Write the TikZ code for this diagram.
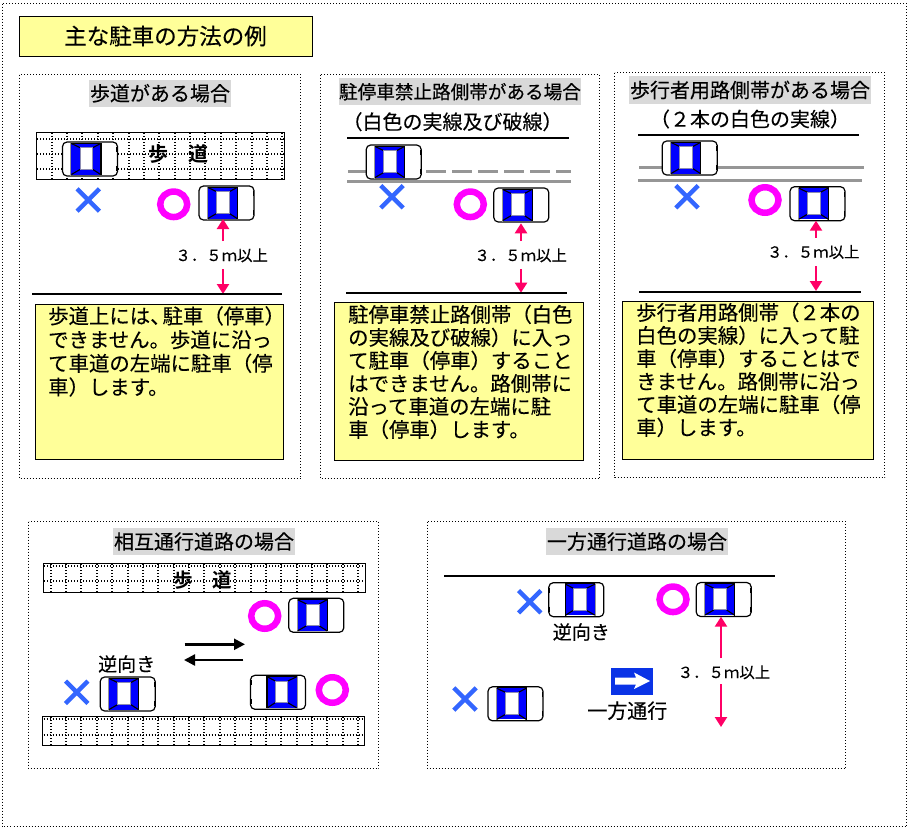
\documentclass[tikz,border=0pt]{standalone}
\usepackage{fontspec}
\setmainfont{Noto Sans CJK JP}[FakeBold=0.25]
\newfontfamily\heavyfont{Noto Sans CJK JP Bold}
\usetikzlibrary{shapes.geometric,shapes.misc,arrows.meta}
\definecolor{padyellow}{HTML}{FFFF99}
\definecolor{hdrgrey}{HTML}{D9D9D9}
\definecolor{linegrey}{HTML}{969696}
\definecolor{xblue}{HTML}{3366FF}
\definecolor{arrowred}{HTML}{FF0066}
\definecolor{signblue}{HTML}{0A33E6}
\definecolor{ringmag}{HTML}{FF00FF}
\definecolor{glass}{HTML}{0000FF}
\definecolor{framegrey}{HTML}{8C8CB4}
\newcommand{\fsz}[1]{\fontsize{#1}{#1}\selectfont}
\tikzset{
  panel/.style={draw=black,line width=1pt,dash pattern=on 1pt off 2pt},
  gridline/.style={line width=2pt,dash pattern=on 1pt off 2pt},
  hdr/.style={fill=hdrgrey,inner sep=0pt,text=black},
  note/.style={fill=padyellow,draw=black,line width=.9pt},
  notetext/.style={inner sep=0pt,anchor=north west,align=left},
  road/.style={line width=2pt,draw=black},
  greyroad/.style={line width=3pt,draw=linegrey},
  redarrow/.style={line width=2.3pt,draw=arrowred,-{Triangle[length=10pt,width=12pt]}},
  blackarrow/.style={line width=2.4pt,draw=black,-{Triangle[length=11pt,width=11pt]}},
  ring/.style={ellipse,draw=ringmag,line width=6.5pt,minimum width=27pt,minimum height=25.5pt,inner sep=0pt},
  nomark/.style={cross out,draw=xblue,line width=4.4pt,minimum size=18pt,inner sep=0pt},
  dim/.style={inner sep=0pt,font=\fsz{15.4}},
  lbl/.style={inner sep=0pt,font=\fsz{19}},
  walk/.style={draw=black,line width=1pt},
  carframe/.style={inner sep=0pt,minimum width=55pt,minimum height=34pt},
  carpic/.pic={
    \fill[white,draw=black,line width=1.2pt,rounded corners=4.5pt] (-27.5,-17) rectangle (27.5,17);
    \draw[linegrey,line width=.8pt] (-19.4,-16.5) -- (-19.4,16.5);
    \fill[glass] (-18.6,-15.8) rectangle (10.6,15.6);
    \draw[black,line width=1.1pt] (11,-16) -- (11,16);
    \draw[black,line width=1pt] (-18.6,-16) -- (11,-16);
    \draw[black,line width=1.1pt] (-18.6,-15.5) -- (-9.8,-11.3) (10.6,-15.5) -- (2.8,-11.3);
    \draw[black,line width=1.1pt] (-18.6,15.5) -- (-9.8,10.4) (10.6,15.5) -- (2.8,10.4);
    \fill[white,draw=framegrey,line width=1pt] (-9.8,-11.3) rectangle (2.8,10.4);
    \draw[black,line width=1.5pt] (27.2,-12) -- (27.2,-7) (27.2,7) -- (27.2,12);
  }
}
\newcommand{\placecar}[4]{%
  \node[carframe] (#1) at (#2,#3) {};
  \pic at (#1) {carpic};}
\newcommand{\placecarflip}[4]{%
  \node[carframe] (#1) at (#2,#3) {};
  \pic[xscale=-1] at (#1) {carpic};}
\newcommand{\walkgrid}[7]{% left top right bottom ys firstx n
  \foreach \k in {0,...,#7}{\pgfmathsetmacro{\vx}{round(#6+15.37*\k)}\draw[gridline] (\vx,#2) -- (\vx,#4);}
  \foreach \yy in {#5}{\draw[gridline] (#1,\yy) -- (#3,\yy);}}
\begin{document}
\begin{tikzpicture}[x=1pt,y=-1pt]
\useasboundingbox[fill=white] (0,0) rectangle (913,833);
% frames
\draw[panel] (2.5,3.5) rectangle (906.5,826.5);
\node[fill=padyellow,draw=black,line width=.9pt,minimum width=293pt,minimum height=40pt,inner sep=0pt,font=\fsz{22.5}] (title) at (165.5,36) {主な駐車の方法の例};
\draw[panel] (19.5,74.5) rectangle (300.5,478.5);
\draw[panel] (320.5,74.5) rectangle (599.5,478.5);
\draw[panel] (614.5,72.5) rectangle (884.5,477.5);
\draw[panel] (28.5,521.5) rectangle (378.5,768.5);
\draw[panel] (427.5,521.5) rectangle (845.5,768.5);
% headers
\node[hdr,minimum width=142pt,minimum height=26.5pt,font=\fsz{20}] (h1) at (160,93.3) {歩道がある場合};
\node[hdr,minimum width=242pt,minimum height=26.5pt,font=\fsz{18.6}] (h2) at (460,91.7) {駐停車禁止路側帯がある場合};
\node[inner sep=0pt,font=\fsz{20}] (s2) at (452.5,121.7) {（白色の実線及び破線）};
\node[hdr,minimum width=242pt,minimum height=28pt,font=\fsz{20}] (h3) at (750,90) {歩行者用路側帯がある場合};
\node[inner sep=0pt,font=\fsz{20}] (s3) at (750,119) {（２本の白色の実線）};
\node[hdr,minimum width=182pt,minimum height=27pt,font=\fsz{20}] (h4) at (204,541.5) {相互通行道路の場合};
\node[hdr,minimum width=182pt,minimum height=27pt,font=\fsz{20}] (h5) at (637,541.5) {一方通行道路の場合};
% panel 1
\walkgrid{37}{133}{284}{179}{139,154,169}{51.7}{15}
\draw[walk] (36.7,132) rectangle (284,179);
\node[inner sep=0pt,font=\heavyfont\fsz{20}] (w1) at (178.3,154.3) {歩　道};
\placecar{c11}{90}{159}{}
\placecar{c12}{226.5}{203}{}
\node[nomark] (x11) at (88.3,200) {};
\node[ring] (o11) at (173.7,204.3) {};
\node[dim] (d1) at (221.7,255.3) {３．５ｍ以上};
\coordinate (a1a) at (223,241); \coordinate (a1b) at (223,219);
\coordinate (a1c) at (223,269); \coordinate (a1d) at (223,294);
\draw[redarrow] (a1a) -- (a1b);
\draw[redarrow] (a1c) -- (a1d);
\coordinate (r1a) at (32,294); \coordinate (r1b) at (282,294);
\draw[road] (r1a) -- (r1b);
\node[note,minimum width=248pt,minimum height=155pt,inner sep=0pt] (n1) at (159.7,382) {};
\node[notetext,font=\fontsize{20.4}{23.7}\selectfont] (t1) at (48,306) {歩道上には、\hspace{-8pt}駐車（停車）\\できません。歩道に沿っ\\て車道の左端に駐車（停\\車）します。};
% panel 2
\coordinate (r2a) at (347,137.7); \coordinate (r2b) at (569,137.7);
\draw[road] (r2a) -- (r2b);
\coordinate (g2a) at (348,171.3); \coordinate (g2b) at (571,171.3);
\draw[greyroad,dash pattern=on 20pt off 6pt] (g2a) -- (g2b);
\coordinate (g2c) at (347,181.3); \coordinate (g2d) at (571,181.3);
\draw[greyroad] (g2c) -- (g2d);
\placecar{c21}{393.7}{162}{}
\placecar{c22}{521.3}{205}{}
\node[nomark] (x21) at (392,196.7) {};
\node[ring] (o21) at (470.3,204.3) {};
\node[dim] (d2) at (520.7,255.3) {３．５ｍ以上};
\coordinate (a2a) at (521,241); \coordinate (a2b) at (521,223.3);
\coordinate (a2c) at (521,269); \coordinate (a2d) at (521,292.7);
\draw[redarrow] (a2a) -- (a2b);
\draw[redarrow] (a2c) -- (a2d);
\coordinate (r2c) at (346,292.7); \coordinate (r2d) at (567,292.7);
\draw[road] (r2c) -- (r2d);
\node[note,minimum width=249.4pt,minimum height=157.5pt,inner sep=0pt] (n2) at (459,381.5) {};
\node[notetext,font=\fontsize{20.4}{23}\selectfont] (t2) at (348,304.5) {駐停車禁止路側帯（白色\\の実線及び破線）に入っ\\て駐車（停車）すること\\はできません。路側帯に\\沿って車道の左端に駐\\車（停車）します。};
% panel 3
\coordinate (r3a) at (638,135); \coordinate (r3b) at (859,135);
\draw[road] (r3a) -- (r3b);
\coordinate (g3a) at (639,167); \coordinate (g3b) at (864,167);
\draw[greyroad] (g3a) -- (g3b);
\coordinate (g3c) at (638,180); \coordinate (g3d) at (862,180);
\draw[greyroad] (g3c) -- (g3d);
\placecar{c31}{689.7}{158}{}
\placecar{c32}{817.5}{203.7}{}
\node[nomark] (x31) at (687,196.7) {};
\node[ring] (o31) at (765,200) {};
\node[dim] (d3) at (813.3,252) {３．５ｍ以上};
\coordinate (a3a) at (816,237.7); \coordinate (a3b) at (816,220.7);
\coordinate (a3c) at (816,266); \coordinate (a3d) at (816,291);
\draw[redarrow] (a3a) -- (a3b);
\draw[redarrow] (a3c) -- (a3d);
\coordinate (r3c) at (639,291.7); \coordinate (r3d) at (861,291.7);
\draw[road] (r3c) -- (r3d);
\node[note,minimum width=251.4pt,minimum height=157.5pt,inner sep=0pt] (n3) at (748,380.5) {};
\node[notetext,font=\fontsize{20.4}{23}\selectfont] (t3) at (636,302.5) {歩行者用路側帯（２本の\\白色の実線）に入って駐\\車（停車）することはで\\きません。路側帯に沿っ\\て車道の左端に駐車（停\\車）します。};
% panel 4
\walkgrid{44}{564}{365}{592}{566,581}{50.7}{20}
\draw[walk] (43.3,563.3) rectangle (365.3,592.3);
\node[inner sep=0pt,font=\heavyfont\fsz{19.5}] (w2) at (203,580) {歩　道};
\walkgrid{43.5}{717}{364}{745}{719,735}{50.7}{20}
\draw[walk] (42.7,716.3) rectangle (364.3,745.3);
\placecar{c41}{316.3}{615.3}{}
\placecarflip{c42}{278}{692.3}{}
\placecar{c43}{127.7}{694}{}
\node[ring] (o41) at (264.7,616) {};
\node[ring] (o42) at (332.3,690) {};
\node[nomark] (x41) at (76.7,692.3) {};
\node[lbl] (g1) at (126.7,664) {逆向き};
\coordinate (b1a) at (184.7,644.3); \coordinate (b1b) at (245,644.3);
\coordinate (b2a) at (243.3,660); \coordinate (b2b) at (184,660);
\draw[blackarrow] (b1a) -- (b1b);
\draw[blackarrow] (b2a) -- (b2b);
% panel 5
\coordinate (r5a) at (444,576); \coordinate (r5b) at (775,576);
\draw[road] (r5a) -- (r5b);
\placecarflip{c51}{576.3}{599.7}{}
\placecar{c52}{723.7}{599.5}{}
\placecar{c53}{515.5}{703.8}{}
\node[nomark] (x51) at (529.7,601.7) {};
\node[nomark] (x52) at (465,699) {};
\node[ring] (o51) at (673,599.3) {};
\node[lbl] (g2) at (581.3,632) {逆向き};
\node[fill=signblue,minimum width=42.3pt,minimum height=27pt,inner sep=0pt] (sign) at (632.2,681) {};
\fill[white] (615,677.5) -- (636,677.5) -- (634,672.5) -- (650,681) -- (634,689) -- (636,684.5) -- (615,684.5) -- cycle;
\node[inner sep=0pt,font=\fsz{20}] (ow) at (627.3,710.7) {一方通行};
\node[dim] (d5) at (724,672.3) {３．５ｍ以上};
\coordinate (a5a) at (721,658.3); \coordinate (a5b) at (721,616.7);
\coordinate (a5c) at (721,684); \coordinate (a5d) at (721,727);
\draw[redarrow] (a5a) -- (a5b);
\draw[redarrow] (a5c) -- (a5d);
\end{tikzpicture}
\end{document}
